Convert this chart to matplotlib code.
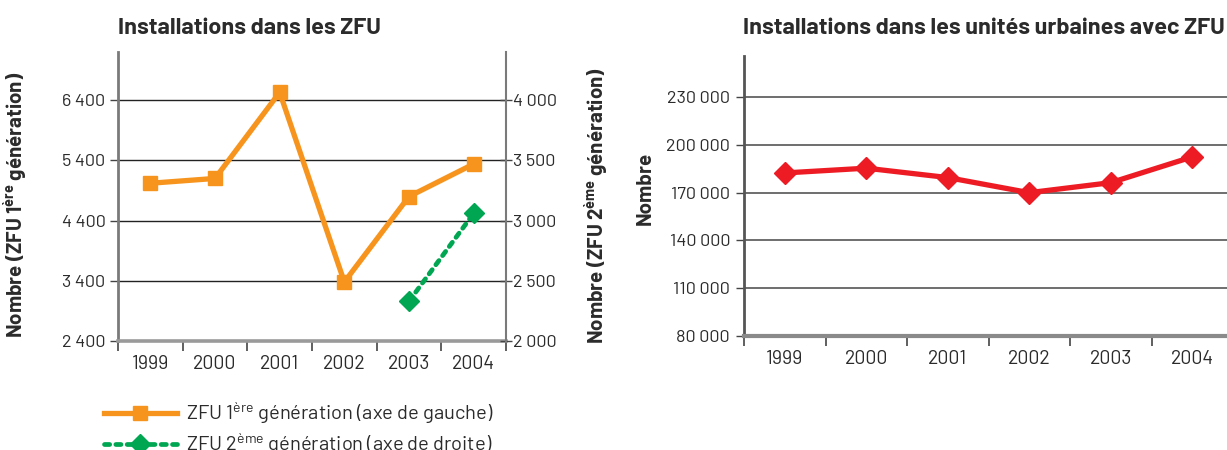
import matplotlib
matplotlib.use("Agg")
import matplotlib.pyplot as plt
from matplotlib.ticker import FixedLocator, NullFormatter
from matplotlib.lines import Line2D

# Data
years = ["1999", "2000", "2001", "2002", "2003", "2004"]
zfu_gen1 = [5020, 5100, 6530, 3380, 4800, 5340]           # left axis
zfu_gen2_years = ["2003", "2004"]
zfu_gen2 = [2330, 3060]                                   # right axis
urban_units = [182300, 185300, 179400, 169900, 176200, 192400]

left_ticks = [2400, 3400, 4400, 5400, 6400]
right_ticks = [2000, 2500, 3000, 3500, 4000]
urban_ticks = [80000, 110000, 140000, 170000, 200000, 230000]

ORANGE = "#F7941D"
GREEN = "#00A651"
RED = "#ED1C24"
TXT = "#2b2b2b"

FONT = "Barlow"
plt.rcParams["font.family"] = [FONT, "DejaVu Sans"]
plt.rcParams["mathtext.fontset"] = "custom"
plt.rcParams["mathtext.rm"] = FONT
plt.rcParams["mathtext.bf"] = FONT + ":bold"

TICK_FS = 13
XTICK_FS = 14
LABEL_FS = 14.8
TITLE_FS = 16.8


def fmt(v):
    return f"{v:,}".replace(",", " ")


fig = plt.figure(figsize=(12.27, 4.5), dpi=100)
W, H = 1227.0, 450.0

x = list(range(len(years)))
idx = {y: i for i, y in enumerate(years)}


def px_axes(x0, x1, ytop, ybot):
    return [x0 / W, 1 - ybot / H, (x1 - x0) / W, (ybot - ytop) / H]


def style_categories(ax):
    ax.set_xlim(-0.5, len(years) - 0.5)
    ax.xaxis.set_major_locator(FixedLocator([i - 0.5 for i in range(len(years) + 1)]))
    ax.xaxis.set_major_formatter(NullFormatter())
    ax.xaxis.set_minor_locator(FixedLocator(x))
    ax.set_xticklabels(years, minor=True)
    ax.tick_params(axis="x", which="major", direction="out", length=7, width=1.2, color="#444444")
    ax.tick_params(axis="x", which="minor", length=0, pad=10, labelsize=XTICK_FS, labelcolor=TXT)


# ---------- Left panel: ZFU ----------
ax1 = fig.add_axes(px_axes(118, 506, 52, 341))
ax1.plot(x, zfu_gen1, color=ORANGE, lw=3.8, marker="s", ms=10, zorder=4,
         solid_joinstyle="miter")
ax1.set_ylim(2400, 7200)
ax1.set_yticks(left_ticks)
ax1.set_yticklabels([fmt(v) for v in left_ticks])
ax1.tick_params(axis="y", direction="out", length=6, width=1, color="#444444",
                labelsize=TICK_FS, labelcolor=TXT, pad=3)
for v in left_ticks[1:]:
    ax1.axhline(v, color="#222222", lw=1, zorder=1)
style_categories(ax1)
ax1.spines["top"].set_visible(False)
ax1.spines["right"].set_visible(False)
ax1.spines["left"].set_color("#7a7a7a")
ax1.spines["left"].set_linewidth(2)
ax1.spines["bottom"].set_color("#9a9a9a")
ax1.spines["bottom"].set_linewidth(2.6)
ax1.set_ylabel(r"Nombre (ZFU 1$^{\mathregular{ère}}$ génération)", fontsize=LABEL_FS,
               fontweight="bold", color=TXT)
ax1.yaxis.set_label_coords(-0.229, 0.472)

ax2 = ax1.twinx()
ax2.plot([idx[y] for y in zfu_gen2_years], zfu_gen2, color=GREEN, lw=3.4,
         ls=(0, (1.1, 1.3)), dash_capstyle="round", marker="D", ms=10, zorder=4)
ax2.set_ylim(2000, 4400)
ax2.set_yticks(right_ticks)
ax2.set_yticklabels([fmt(v) for v in right_ticks])
ax2.tick_params(axis="y", direction="inout", length=8, width=1, color="#444444",
                labelsize=TICK_FS, labelcolor=TXT, pad=1)
for s in ["top", "left", "bottom"]:
    ax2.spines[s].set_visible(False)
ax2.spines["right"].set_color("#7a7a7a")
ax2.spines["right"].set_linewidth(1.5)
ax2.set_ylabel(r"Nombre (ZFU 2$^{\mathregular{ème}}$ génération)", fontsize=LABEL_FS,
               fontweight="bold", color=TXT)
ax2.yaxis.set_label_coords(1.195, 0.47)

# ---------- Right panel: urban units ----------
ax3 = fig.add_axes(px_axes(744, 1233, 55.7, 335.7))
ax3.plot(x, urban_units, color=RED, lw=3.8, marker="D", ms=11, zorder=4)
ax3.set_ylim(80000, 256000)
ax3.set_yticks(urban_ticks)
ax3.set_yticklabels([fmt(v) for v in urban_ticks])
ax3.tick_params(axis="y", direction="out", length=6, width=1, color="#444444",
                labelsize=TICK_FS, labelcolor=TXT, pad=4)
for v in urban_ticks[1:]:
    ax3.axhline(v, color="#555555", lw=1.2, zorder=1)
style_categories(ax3)
ax3.spines["top"].set_visible(False)
ax3.spines["right"].set_visible(False)
ax3.spines["left"].set_color("#555555")
ax3.spines["left"].set_linewidth(2)
ax3.spines["bottom"].set_color("#8a8a8a")
ax3.spines["bottom"].set_linewidth(3)
ax3.set_ylabel("Nombre", fontsize=LABEL_FS, fontweight="bold", color=TXT)
ax3.yaxis.set_label_coords(-0.182, 0.527)

# ---------- Titles ----------
title_y = 1 - 33.5 / H
fig.text(118 / W, title_y, "Installations dans les ZFU", fontsize=TITLE_FS,
         fontweight="bold", color=TXT, va="baseline", ha="left")
fig.text(743 / W, title_y, "Installations dans les unités urbaines avec ZFU",
         fontsize=TITLE_FS, fontweight="bold", color=TXT, va="baseline", ha="left")

# ---------- Legend ----------
handles = [
    Line2D([], [], color=ORANGE, lw=3.8, marker="s", ms=10),
    Line2D([], [], color=GREEN, lw=3.4, ls=(0, (1.1, 1.3)), dash_capstyle="round",
           marker="D", ms=10),
]
labels = [r"ZFU 1$^{\mathregular{ère}}$ génération (axe de gauche)",
          r"ZFU 2$^{\mathregular{ème}}$ génération (axe de droite)"]
leg = fig.legend(handles, labels, loc="upper left", bbox_to_anchor=(104 / W, 1 - 400 / H),
                 frameon=False, fontsize=14.5, handlelength=3.6, handletextpad=0.45,
                 labelspacing=0.25, borderaxespad=0, borderpad=0)
for t in leg.get_texts():
    t.set_color(TXT)

fig.savefig("out.png", dpi=100)
